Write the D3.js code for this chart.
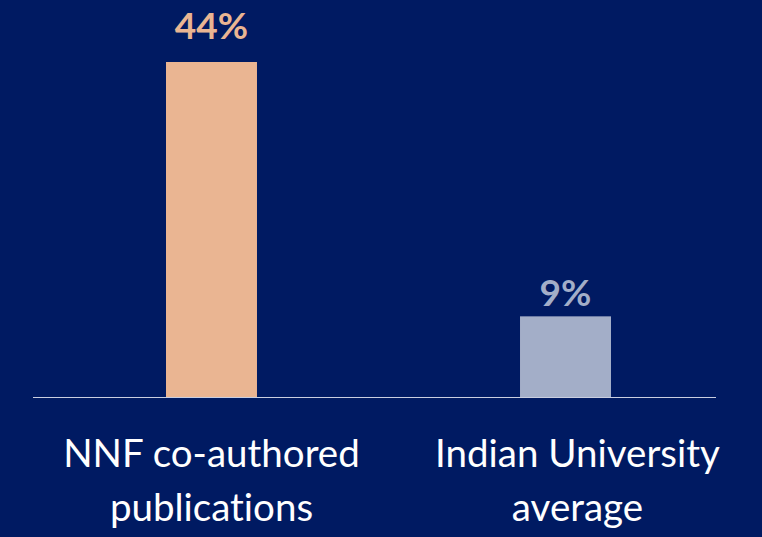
<!DOCTYPE html>
<html>
<head>
<meta charset="utf-8">
<script src="https://cdn.jsdelivr.net/npm/d3@7"></script>
<style>
  body { margin: 0; background: #001A62; }
  svg { display: block; }
  text { font-variant-ligatures: none; }
</style>
</head>
<body>
<div id="chart"></div>
<script>
// chart data
const categories = ['NNF co-authored publications', 'Indian University average'];
const labelLines = [['NNF co-authored', 'publications'], ['Indian University', 'average']];
const values = [44, 9];
const valueLabels = ['44%', '9%'];
const barColors = ['#EAB592', '#A3AEC8'];

const width = 762,
    height = 537;
const baseline = 397;
const labelGap = [23, 10];     // space between bar top and value label
const labelShift = [0, 12];    // category label horizontal nudge

const svg = d3.select('#chart')
    .append('svg')
    .attr('width', width)
    .attr('height', height);

svg.append('rect')
    .attr('width', width)
    .attr('height', height)
    .attr('fill', '#001A62');

// band scale for the two columns
const x = d3.scaleBand()
    .domain(categories)
    .range([33, 744])
    .paddingInner(0.743)
    .paddingOuter(0.3757);

// value axis (the original baseline sits slightly below zero)
const y = d3.scaleLinear()
    .domain([-2.1, 44])
    .range([baseline, 62]);

// bars
svg.selectAll('rect.bar')
    .data(values)
    .enter()
    .append('rect')
    .attr('class', 'bar')
    .attr('x', (d, i) => x(categories[i]))
    .attr('width', x.bandwidth())
    .attr('y', d => y(d))
    .attr('height', d => baseline - y(d))
    .attr('fill', (d, i) => barColors[i]);

// baseline
svg.append('line')
    .attr('x1', 33)
    .attr('x2', 716)
    .attr('y1', baseline + 0.5)
    .attr('y2', baseline + 0.5)
    .attr('stroke', '#C9CEE0')
    .attr('stroke-width', 1);

// value labels
svg.selectAll('text.value')
    .data(values)
    .enter()
    .append('text')
    .attr('class', 'value')
    .attr('x', (d, i) => x(categories[i]) + x.bandwidth() / 2)
    .attr('y', (d, i) => y(d) - labelGap[i])
    .attr('text-anchor', 'middle')
    .attr('font-family', 'Lato, "Open Sans", sans-serif')
    .attr('font-weight', 'bold')
    .attr('font-size', '37px')
    .attr('fill', (d, i) => barColors[i])
    .text((d, i) => valueLabels[i]);

// category labels
const cat = svg.selectAll('text.cat')
    .data(labelLines)
    .enter()
    .append('text')
    .attr('class', 'cat')
    .attr('text-anchor', 'middle')
    .attr('font-family', 'Lato, "Open Sans", sans-serif')
    .attr('font-size', '38.5px')
    .attr('fill', '#FFFFFF');

cat.each(function (lines, i) {
    const cx = x(categories[i]) + x.bandwidth() / 2 + labelShift[i];
    d3.select(this).selectAll('tspan')
        .data(lines)
        .enter()
        .append('tspan')
        .attr('x', cx)
        .attr('y', (l, j) => 467 + j * 54)
        .text(l => l);
});
</script>
</body>
</html>
